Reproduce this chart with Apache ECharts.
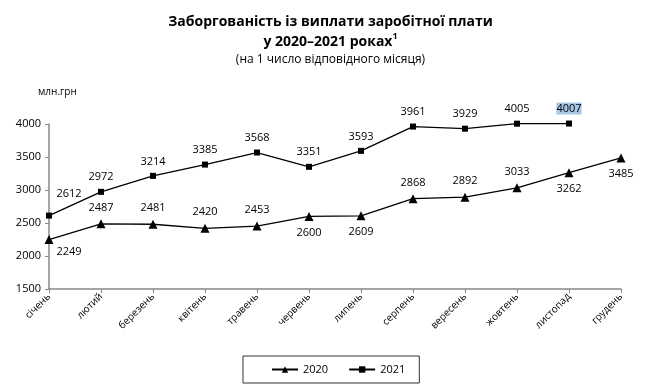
<!DOCTYPE html>
<html><head><meta charset="utf-8">
<script src="https://cdn.jsdelivr.net/npm/echarts@6/dist/echarts.min.js"></script>
<style>html,body{margin:0;padding:0;background:#fff}#c{width:661px;height:391px}</style>
</head><body><div id="c"></div>
<script>
const months = ['січень','лютий','березень','квітень','травень','червень','липень','серпень','вересень','жовтень','листопад','грудень'];
const values2020 = [2249,2487,2481,2420,2453,2600,2609,2868,2892,3033,3262,3485];
const values2021 = [2612,2972,3214,3385,3568,3351,3593,3961,3929,4005,4007];
const labelPos2020 = ['bottom','top','top','top','top','bottom','bottom','top','top','top','bottom','bottom'];
const yTicks = [1500,2000,2500,3000,3500,4000];

const FONT = '"Open Sans", "Noto Sans", sans-serif';
const chart = echarts.init(document.getElementById('c'), null, {renderer:'canvas'});

const d2020 = values2020.map((v,i)=>{
  const item = {value:v, label:{position:labelPos2020[i]}};
  if (i===0) item.label.offset = [20,-4];
  return item;
});
const d2021 = values2021.map((v,i)=>{
  const item = {value:v};
  if (i===0) item.label = {offset:[20,-7]};
  if (i===values2021.length-1) item.label = {backgroundColor:'#a8c6e6', padding:[1,0,0,0]};
  return item;
});

chart.setOption({
  animation:false,
  textStyle:{fontFamily:FONT},
  title:[{
    text:'Заборгованість із виплати заробітної плати\nу 2020–2021 роках{sup|1}',
    left:'center', top:7,
    textStyle:{fontSize:14, fontWeight:'bold', color:'#000', lineHeight:20, fontFamily:FONT,
      rich:{sup:{fontSize:9, fontWeight:'bold', verticalAlign:'top', padding:[0,0,8,0], fontFamily:FONT}}}
  },{
    text:'(на 1 число відповідного місяця)',
    left:'center', top:49,
    textStyle:{fontSize:12, fontWeight:'normal', color:'#000', fontFamily:FONT}
  },{
    text:'млн.грн', left:33, top:82,
    textStyle:{fontSize:10, fontWeight:'normal', color:'#000', fontFamily:FONT}
  }],
  grid:{left:49, right:40, top:124, bottom:102},
  legend:{
    bottom:8, left:243, itemGap:20, itemWidth:26, itemHeight:8,
    padding:[8,14,8,28],
    borderColor:'#333', borderWidth:1,
    textStyle:{fontSize:11, color:'#000', fontFamily:FONT},
    data:['2020','2021']
  },
  xAxis:{
    type:'category', data:months, boundaryGap:false,
    axisLine:{lineStyle:{color:'#888', width:1.5}},
    axisTick:{alignWithLabel:true, length:4, lineStyle:{color:'#888'}},
    axisLabel:{rotate:45, fontSize:10, color:'#000', margin:6, interval:0}
  },
  yAxis:{
    type:'value', min:yTicks[0], max:yTicks[yTicks.length-1], interval:500,
    axisLine:{show:true, lineStyle:{color:'#888', width:1.5}},
    axisTick:{show:true, length:4, lineStyle:{color:'#888'}},
    splitLine:{show:false},
    axisLabel:{fontSize:11, color:'#000', margin:8, formatter:(v)=>String(v)}
  },
  series:[{
    name:'2020', type:'line', data:d2020, clip:false,
    symbol:'triangle', symbolSize:9,
    lineStyle:{color:'#000', width:1.3}, itemStyle:{color:'#000'},
    label:{show:true, fontSize:11, color:'#000', distance:6}
  },{
    name:'2021', type:'line', data:d2021, clip:false,
    symbol:'rect', symbolSize:6,
    lineStyle:{color:'#000', width:1.3}, itemStyle:{color:'#000'},
    label:{show:true, position:'top', fontSize:11, color:'#000', distance:6}
  }]
});
</script></body></html>
